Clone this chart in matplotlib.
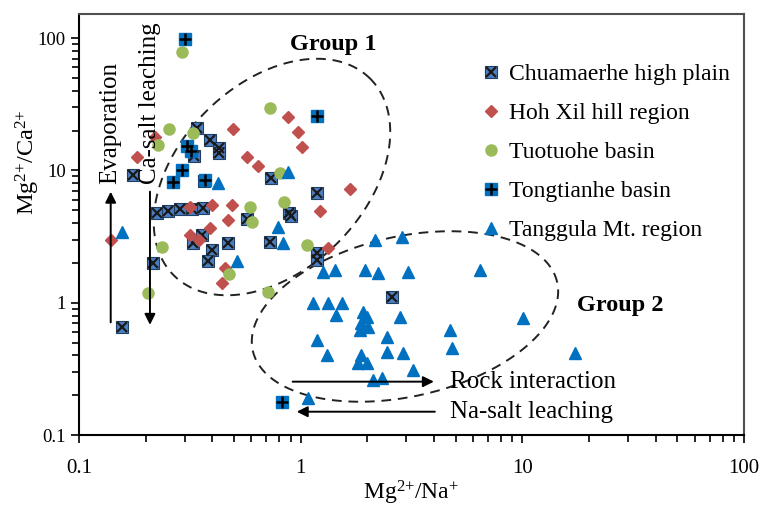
import matplotlib
matplotlib.use('Agg')
import matplotlib.pyplot as plt
import numpy as np
from matplotlib.lines import Line2D
from matplotlib.legend_handler import HandlerTuple
from matplotlib.ticker import FixedLocator, LogLocator, NullFormatter

plt.rcParams['font.family'] = 'Liberation Serif'
plt.rcParams['mathtext.default'] = 'regular'

# ---- data: Mg/Na (x) and Mg/Ca (y) ----
chu_x = [0.156, 0.176, 0.216, 0.225, 0.252, 0.285, 0.323, 0.362, 0.34, 0.39, 0.43,
         0.43, 0.33, 0.365, 0.735, 1.19, 0.57, 0.89, 0.90, 0.358, 0.328, 0.472,
         0.397, 0.383, 0.727, 1.18, 1.18, 2.57]
chu_y = [0.659, 9.23, 1.99, 4.75, 4.9, 5.1, 5.1, 5.2, 20.8, 17.0, 14.7,
         13.5, 12.9, 8.3, 8.8, 6.75, 4.3, 4.74, 4.55, 3.25, 2.85, 2.81,
         2.50, 2.05, 2.89, 2.36, 2.10, 1.11]

hoh_x = [0.140, 0.182, 0.220, 0.497, 0.571, 0.644, 0.879, 0.976, 1.01, 1.67,
         1.22, 1.33, 0.317, 0.397, 0.489, 0.472, 0.390, 0.317, 0.348, 0.456, 0.443]
hoh_y = [2.98, 12.7, 18.0, 20.5, 12.7, 10.7, 25.5, 19.4, 15.1, 7.19,
         4.97, 2.58, 5.3, 5.48, 5.48, 4.22, 3.65, 3.25, 2.98, 1.82, 1.40]

tuo_x = [0.291, 0.727, 0.255, 0.328, 0.228, 0.807, 0.591, 0.601, 0.84, 1.07,
         0.236, 0.476, 0.205, 0.71]
tuo_y = [78.9, 29.8, 20.5, 19.2, 15.6, 9.51, 5.32, 4.05, 5.80, 2.73,
         2.62, 1.64, 1.19, 1.20]

ton_x = [0.301, 1.18, 0.306, 0.32, 0.291, 0.266, 0.370, 0.82]
ton_y = [97.9, 25.6, 15.3, 14.0, 10.07, 8.22, 8.46, 0.179]

tan_x = [0.156, 0.424, 0.879, 0.79, 0.515, 0.835,
         2.16, 2.86, 1.26, 1.43, 1.95, 2.24, 3.06, 6.44, 1.14, 1.33, 1.53, 1.45,
         1.92, 1.99, 1.88, 2.02, 1.85, 2.81, 10.1, 4.71, 2.44, 1.18, 4.80, 1.31,
         2.44, 2.90, 1.88, 1.82, 1.99, 3.22, 2.13, 2.32, 17.3, 1.08]
tan_y = [3.44, 8.03, 9.65, 3.75, 2.07, 2.81,
         2.98, 3.16, 1.71, 1.77, 1.77, 1.67, 1.71, 1.77, 0.99, 0.99, 0.99, 0.807,
         0.855, 0.783, 0.698, 0.659, 0.622, 0.783, 0.762, 0.622, 0.553, 0.522, 0.452, 0.403,
         0.426, 0.415, 0.403, 0.348, 0.348, 0.310, 0.260, 0.268, 0.415, 0.189]

labels = ['Chuamaerhe high plain', 'Hoh Xil hill region', 'Tuotuohe basin',
          'Tongtianhe basin', 'Tanggula Mt. region']
ticks = [0.1, 1, 10, 100]
tick_labels = ['0.1', '1', '10', '100']

blue_x = '#4a7fc1'
blue = '#0070c0'
red = '#c0504d'
green = '#9bbb59'

fig = plt.figure(figsize=(7.64, 5.08), dpi=100)
ax = fig.add_axes([79 / 764, 1 - 435 / 508, 665 / 764, 421 / 508])
ax.set_xscale('log')
ax.set_yscale('log')
ax.set_xlim(0.1, 100)
ax.set_ylim(0.1, 152)

# series
ax.plot(chu_x, chu_y, 's', ms=9, mfc=blue_x, mec='#1f3f66', mew=0.8, zorder=3)
ax.plot(chu_x, chu_y, 'x', ms=7, mec='#1a1a1a', mew=1.6, zorder=3)
ax.plot(hoh_x, hoh_y, 'D', ms=6.5, mfc=red, mec=red, zorder=3)
ax.plot(tuo_x, tuo_y, 'o', ms=8, mfc=green, mec=green, zorder=3)
ax.plot(ton_x, ton_y, 's', ms=8, mfc=blue, mec=blue, zorder=3)
ax.plot(ton_x, ton_y, '+', ms=8, mec='black', mew=1.8, zorder=3)
ax.plot(tan_x, tan_y, '^', ms=8.5, mfc=blue, mec=blue, zorder=3)


# dashed group outlines, sizes in pixels, centre in axes fraction
def outline(cx, cy, a, b, ang):
    t = np.linspace(0, 2 * np.pi, 300)
    th = np.radians(ang)
    dx = a * np.cos(t) * np.cos(th) - b * np.sin(t) * np.sin(th)
    dy = a * np.cos(t) * np.sin(th) + b * np.sin(t) * np.cos(th)
    ax.plot(cx + dx / 665, cy + dy / 421, transform=ax.transAxes,
            color='#222222', lw=1.4, ls=(0, (5, 3.5)), zorder=2)


outline(0.2902, 0.6128, 139, 93, 45)
outline(0.4902, 0.2815, 156, 80, 12.7)

# process arrows and notes
arr = dict(arrowstyle='-|>', color='black', lw=1.4, mutation_scale=16, shrinkA=0, shrinkB=0)
ax.annotate('', xy=(0.139, 6.9), xytext=(0.139, 0.71), arrowprops=arr)
ax.annotate('', xy=(0.209, 0.68), xytext=(0.209, 6.9), arrowprops=arr)
ax.annotate('', xy=(3.99, 0.253), xytext=(0.92, 0.253), arrowprops=arr)
ax.annotate('', xy=(0.96, 0.150), xytext=(4.03, 0.150), arrowprops=arr)

ax.text(0.139, 22.8, 'Evaporation', rotation=90, ha='center', va='center', fontsize=18)
ax.text(0.209, 32, 'Ca-salt leaching', rotation=90, ha='center', va='center', fontsize=18)
ax.text(4.71, 0.253, 'Rock interaction', ha='left', va='center', fontsize=18)
ax.text(4.71, 0.150, 'Na-salt leaching', ha='left', va='center', fontsize=18)
ax.text(1.40, 88.7, 'Group 1', ha='center', va='center', fontsize=17.5, fontweight='bold')
ax.text(27.6, 0.96, 'Group 2', ha='center', va='center', fontsize=17.5, fontweight='bold')

# axes styling
ax.xaxis.set_major_locator(FixedLocator(ticks))
ax.yaxis.set_major_locator(FixedLocator(ticks))
ax.set_xticklabels(tick_labels)
ax.set_yticklabels(tick_labels)
ax.xaxis.set_minor_locator(LogLocator(base=10, subs=np.arange(2, 10)))
ax.yaxis.set_minor_locator(LogLocator(base=10, subs=np.arange(2, 10)))
ax.xaxis.set_minor_formatter(NullFormatter())
ax.yaxis.set_minor_formatter(NullFormatter())
ax.tick_params(which='both', direction='out', width=1.2, color='black')
ax.tick_params(which='major', length=6)
ax.tick_params(which='minor', length=5)
ax.tick_params(axis='x', which='major', pad=11, labelsize=15)
ax.tick_params(axis='y', which='major', labelsize=13.5)
for s in ['left', 'bottom']:
    ax.spines[s].set_linewidth(1.5)
    ax.spines[s].set_color('black')
for s in ['top', 'right']:
    ax.spines[s].set_linewidth(1.5)
    ax.spines[s].set_color('#505050')

ax.set_xlabel('Mg$^{2{+}}$/Na$^{{+}}$', fontsize=17, labelpad=1)
ax.set_ylabel('Mg$^{2{+}}$/Ca$^{2{+}}$', fontsize=17.5)
ax.yaxis.set_label_coords(-0.055, 0.648)

# legend
h_chu = (Line2D([], [], ls='', marker='s', ms=9, mfc=blue_x, mec='#1f3f66', mew=0.8),
         Line2D([], [], ls='', marker='x', ms=7, mec='#1a1a1a', mew=1.6))
h_hoh = Line2D([], [], ls='', marker='D', ms=6.5, mfc=red, mec=red)
h_tuo = Line2D([], [], ls='', marker='o', ms=8, mfc=green, mec=green)
h_ton = (Line2D([], [], ls='', marker='s', ms=8, mfc=blue, mec=blue),
         Line2D([], [], ls='', marker='+', ms=8, mec='black', mew=1.8))
h_tan = Line2D([], [], ls='', marker='^', ms=8.5, mfc=blue, mec=blue)
ax.legend([h_chu, h_hoh, h_tuo, h_ton, h_tan], labels,
          handler_map={tuple: HandlerTuple(ndivide=1)},
          loc='upper left', bbox_to_anchor=(0.6025, 0.882), frameon=False,
          fontsize=17, handlelength=1.0, handletextpad=0.25,
          labelspacing=0.74, borderpad=0, borderaxespad=0)

fig.savefig('out.png', dpi=100)
